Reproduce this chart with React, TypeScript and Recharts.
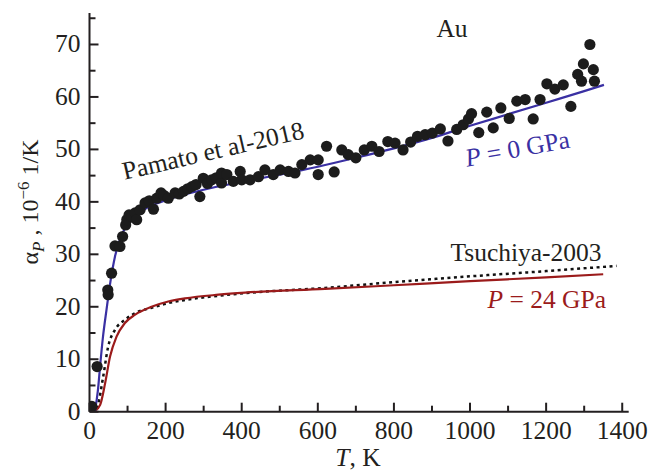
import React from "react";
import { ComposedChart, Line, Scatter, XAxis, YAxis } from "recharts";

const SERIF = "'Liberation Serif', 'Times New Roman', Times, serif";
const INK = "#231f20";
const BLUE = "#3a30a3";
const RED = "#9b1b1b";

// P = 0 GPa (model)
const P0_T = [14, 22, 28, 35, 45, 55, 67, 85, 100, 125, 150, 200, 300, 400, 500, 600, 700, 800, 900, 1000, 1100, 1200, 1300, 1352];
const P0_A = [0, 4, 8.8, 14, 19.6, 24.8, 29.6, 33.8, 35.6, 37.5, 38.8, 40.3, 42.3, 43.8, 45.2, 46.7, 48.4, 50.2, 52.2, 54.5, 56.7, 58.9, 61.1, 62.3];

// P = 24 GPa (model)
const P24_T = [5, 15, 28, 41, 54, 71, 93, 120, 163, 207, 251, 339, 409, 619, 800, 1000, 1200, 1350];
const P24_A = [0, 0.2, 1.3, 5.4, 10.5, 14.3, 16.9, 18.5, 20.0, 21.0, 21.6, 22.3, 22.7, 23.4, 24.1, 24.9, 25.6, 26.2];

// Tsuchiya-2003
const TS_T = [5, 15, 23, 36, 49, 67, 93, 120, 163, 207, 251, 339, 409, 619, 800, 1000, 1200, 1385];
const TS_A = [0, 0.3, 1.6, 6.7, 12.4, 15.6, 17.5, 18.8, 19.8, 20.7, 21.3, 22.1, 22.6, 23.6, 24.7, 25.8, 26.8, 27.8];

// Pamato et al-2018 (experiment)
const PAM_T = [
  6, 20, 48, 49, 58, 67, 80, 87, 95, 98, 104, 111, 120, 124, 133, 146, 157, 168, 177, 188,
  196, 207, 225, 236, 247, 258, 269, 280, 290, 299, 310, 321, 333, 347, 347, 361, 378, 396,
  400, 422, 444, 461, 483, 501, 523, 540, 558, 580, 601, 601, 623, 643, 663, 680, 700, 722,
  742, 761, 784, 803, 824, 844, 862, 882, 901, 922, 942, 965, 982, 996, 1004, 1023, 1044,
  1061, 1081, 1103, 1123, 1145, 1166, 1184, 1202, 1223, 1245, 1265, 1283, 1293, 1298, 1315,
  1324, 1327,
];
const PAM_A = [
  1.0, 8.6, 23.2, 22.3, 26.4, 31.6, 31.5, 33.4, 35.6, 36.6, 37.5, 37.2, 37.9, 36.6, 38.5, 39.8, 40.2, 38.6, 40.7, 41.7,
  41.2, 40.7, 41.7, 41.5, 42.0, 42.5, 42.9, 43.3, 41.0, 44.5, 43.5, 44.2, 44.6, 43.6, 45.5, 45.2, 43.9, 45.8,
  44.2, 44.2, 44.8, 46.1, 45.2, 46.1, 45.8, 45.5, 47.1, 48.0, 48.0, 45.2, 50.6, 45.7, 49.9, 49.0, 48.4, 49.9,
  50.6, 49.6, 51.5, 51.2, 49.9, 51.4, 52.5, 52.8, 53.1, 53.9, 51.6, 53.8, 54.7, 55.8, 56.8, 53.2, 57.1,
  54.1, 57.9, 55.9, 59.2, 59.5, 55.8, 59.5, 62.5, 61.5, 62.3, 58.2, 64.3, 63.0, 66.3, 70.0,
  65.2, 63.0,
];

// ticks every 100 K / 5 units, labelled every 200 K / 10 units
const X_TICKS = [0, 100, 200, 300, 400, 500, 600, 700, 800, 900, 1000, 1100, 1200, 1300, 1400];
const Y_TICKS = [0, 5, 10, 15, 20, 25, 30, 35, 40, 45, 50, 55, 60, 65, 70, 75];

const zip = (xs: number[], ys: number[]) => xs.map((T, i) => ({ T, a: ys[i] }));

const p0 = zip(P0_T, P0_A);
const p24 = zip(P24_T, P24_A);
const tsuchiya = zip(TS_T, TS_A);
const pamato = zip(PAM_T, PAM_A);

const W = 650;
const H = 472;
const X_DOMAIN: [number, number] = [0, 1417];
const Y_DOMAIN: [number, number] = [0, 76];
const FS = 25.5;

const axisStroke = { stroke: INK, strokeWidth: 2 };

// tick marks point into the plot; only every other tick gets a label
const XTick = (props: any) => {
  const { x, y, payload } = props;
  const v = payload.value;
  const major = v % 200 === 0;
  return (
    <g>
      <line x1={x} x2={x} y1={y} y2={y - (major ? 9 : 6)} stroke={INK} strokeWidth={2} />
      {major && (
        <text x={x} y={y + 27} textAnchor="middle" fontFamily={SERIF} fontSize={FS} fill={INK}>
          {v}
        </text>
      )}
    </g>
  );
};

const YTick = (props: any) => {
  const { x, y, payload } = props;
  const v = payload.value;
  const major = v % 10 === 0;
  return (
    <g>
      <line x1={x} x2={x + (major ? 9 : 6)} y1={y} y2={y} stroke={INK} strokeWidth={2} />
      {major && (
        <text x={x - 9} y={y + 8} textAnchor="end" fontFamily={SERIF} fontSize={FS} fill={INK}>
          {v}
        </text>
      )}
    </g>
  );
};

const Dot = (props: any) =>
  props.cx == null ? null : <circle cx={props.cx} cy={props.cy} r={5.6} fill="#1c1c1c" />;

function Labels() {
  const t = { fontFamily: SERIF, fontSize: 25.5, fill: INK };
  return (
    <svg
      width={W}
      height={H}
      style={{ position: "absolute", left: 0, top: 0, pointerEvents: "none" }}
    >
      <text x={452} y={37} textAnchor="middle" {...t}>
        Au
      </text>
      <text x={215} y={159} textAnchor="middle" transform="rotate(-13 215 159)" {...t}>
        Pamato et al-2018
      </text>
      <text x={519} y={157} textAnchor="middle" transform="rotate(-10.5 519 157)" {...t} fill={BLUE}>
        <tspan fontStyle="italic">P</tspan> = 0 GPa
      </text>
      <text x={526} y={261} textAnchor="middle" {...t}>
        Tsuchiya-2003
      </text>
      <text x={606} y={308} textAnchor="end" {...t} fill={RED}>
        <tspan fontStyle="italic">P</tspan> = 24 GPa
      </text>
      <text x={358} y={466} textAnchor="middle" {...t}>
        <tspan fontStyle="italic">T</tspan>, K
      </text>
      <text x={38} y={202} textAnchor="middle" transform="rotate(-90 38 202)" {...t} fontSize={24}>
        α
        <tspan fontSize={17} fontStyle="italic" dy={6}>
          P
        </tspan>
        <tspan dy={-6}> , 10</tspan>
        <tspan fontSize={17} dy={-9}>
          −6
        </tspan>
        <tspan dy={9}> 1/K</tspan>
      </text>
    </svg>
  );
}

export default function App() {
  return (
    <div style={{ position: "absolute", left: 0, top: 0, width: W, height: H, background: "#fff" }}>
      <ComposedChart
        width={W}
        height={H}
        margin={{ top: 13, right: 21.3, bottom: 30.3, left: 0 }}
      >
        <XAxis
          type="number"
          dataKey="T"
          domain={X_DOMAIN}
          ticks={X_TICKS}
          allowDataOverflow
          interval={0}
          height={30}
          axisLine={axisStroke}
          tickLine={false}
          tickSize={0}
          tickMargin={0}
          tick={<XTick />}
        />
        <YAxis
          type="number"
          domain={Y_DOMAIN}
          ticks={Y_TICKS}
          allowDataOverflow
          interval={0}
          width={89.5}
          axisLine={axisStroke}
          tickLine={false}
          tickSize={0}
          tickMargin={0}
          tick={<YTick />}
        />
        <Line
          data={tsuchiya}
          dataKey="a"
          type="monotone"
          stroke="#111"
          strokeWidth={2.5}
          strokeDasharray="3 3.5"
          dot={false}
          isAnimationActive={false}
        />
        <Line
          data={p24}
          dataKey="a"
          type="monotone"
          stroke={RED}
          strokeWidth={2.2}
          dot={false}
          isAnimationActive={false}
        />
        <Line
          data={p0}
          dataKey="a"
          type="monotone"
          stroke={BLUE}
          strokeWidth={2.2}
          dot={false}
          isAnimationActive={false}
        />
        <Scatter data={pamato} dataKey="a" shape={Dot} isAnimationActive={false} />
      </ComposedChart>
      <Labels />
    </div>
  );
}
